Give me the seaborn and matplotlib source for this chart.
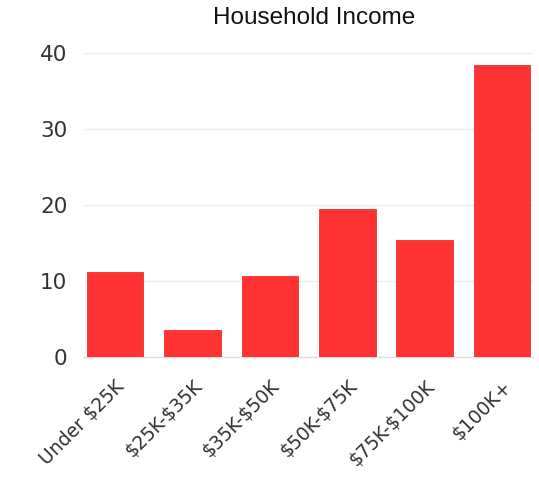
import matplotlib
matplotlib.use("Agg")
import matplotlib.pyplot as plt
import seaborn as sns
import pandas as pd

categories = ["Under $25K", "$25K-$35K", "$35K-$50K", "$50K-$75K", "$75K-$100K", "$100K+"]
values = [11.2, 3.6, 10.7, 19.5, 15.4, 38.4]
yticks = [0, 10, 20, 30, 40]

sns.set_theme(style="white")
plt.rcParams['font.family'] = ['DejaVu Sans']

df = pd.DataFrame({"income": categories, "pct": values})

fig = plt.figure(figsize=(5.39, 4.8), dpi=100)
ax = fig.add_axes([0.156, 0.256, 0.833, 0.65])

sns.barplot(data=df, x="income", y="pct", color="#ff3333", saturation=1,
            width=0.73, ax=ax, zorder=3, edgecolor="#ee3030", linewidth=0.6)

ax.set_xlim(-0.4, 5.4)
ax.set_ylim(0, 41)
ax.set_yticks(yticks)
ax.set_yticklabels([str(t) for t in yticks], fontsize=15.5, color="#333333")
ax.set_xticks(range(len(categories)))
ax.set_xticklabels([c.replace("$", r"\$") for c in categories], rotation=45,
                   ha="right", rotation_mode="anchor", fontsize=13.5, color="#333333")
ax.tick_params(axis="x", length=0, pad=14)
ax.tick_params(axis="y", length=0, pad=12)
ax.yaxis.grid(True, color="#eeeeee", linewidth=1, zorder=0)
ax.set_axisbelow(True)
for s in ["top", "right", "left"]:
    ax.spines[s].set_visible(False)
ax.spines["bottom"].set_color("#dddddd")
ax.spines["bottom"].set_linewidth(1)
ax.set_xlabel("")
ax.set_ylabel("")
fig.text(0.583, 0.962, "Household Income", ha="center", va="center",
         fontsize=17.5, family="Liberation Sans", color="#111111")

fig.savefig("out.png", dpi=100, facecolor="white")
